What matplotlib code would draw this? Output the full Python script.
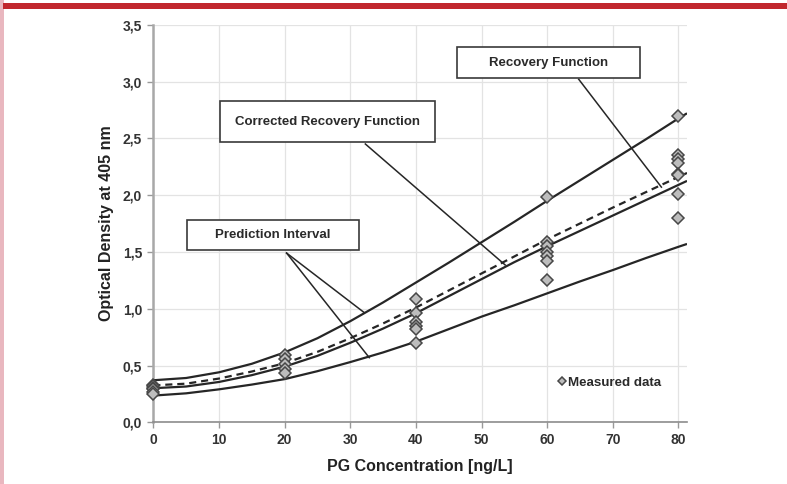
import matplotlib
matplotlib.use("Agg")
import matplotlib.pyplot as plt
from matplotlib.patches import Rectangle
from matplotlib.ticker import FuncFormatter

plt.rcParams['font.family'] = ['Liberation Sans', 'DejaVu Sans']

# ---- data ----
curve_x = [0, 5, 10, 15, 20, 25, 30, 35, 40, 45, 50, 55, 60, 65, 70, 75, 80, 81.3]
upper_pi = [0.37, 0.39, 0.44, 0.515, 0.615, 0.74, 0.89, 1.055, 1.23, 1.405, 1.585,
            1.765, 1.95, 2.13, 2.31, 2.49, 2.675, 2.72]
corrected_recovery = [0.325, 0.34, 0.385, 0.447, 0.52, 0.62, 0.74, 0.87, 1.01, 1.16, 1.31,
                      1.46, 1.61, 1.75, 1.89, 2.025, 2.16, 2.195]
recovery = [0.30, 0.315, 0.355, 0.415, 0.49, 0.585, 0.70, 0.825, 0.96, 1.11, 1.26,
            1.41, 1.55, 1.685, 1.82, 1.955, 2.09, 2.125]
lower_pi = [0.235, 0.255, 0.29, 0.332, 0.38, 0.45, 0.53, 0.615, 0.71, 0.82, 0.93,
            1.03, 1.135, 1.24, 1.34, 1.445, 1.545, 1.57]

meas_x = [0, 0, 0, 0, 0, 0,
          20, 20, 20, 20, 20,
          40, 40, 40, 40, 40, 40,
          60, 60, 60, 60, 60, 60, 60,
          80, 80, 80, 80, 80, 80, 80, 80]
meas_y = [0.33, 0.32, 0.30, 0.29, 0.27, 0.25,
          0.59, 0.56, 0.515, 0.47, 0.43,
          1.085, 0.965, 0.88, 0.85, 0.82, 0.695,
          1.98, 1.59, 1.55, 1.50, 1.46, 1.42, 1.25,
          2.70, 2.35, 2.32, 2.28, 2.19, 2.18, 2.01, 1.80]

x_ticks = [0, 10, 20, 30, 40, 50, 60, 70, 80]
y_ticks = [0.0, 0.5, 1.0, 1.5, 2.0, 2.5, 3.0, 3.5]

# annotation boxes: (label, x0, x1, y0, y1) in data units, connectors
boxes = [
    ("Recovery Function", 46.3, 74.2, 3.03, 3.30),
    ("Corrected Recovery Function", 10.2, 42.9, 2.465, 2.83),
    ("Prediction Interval", 5.1, 31.4, 1.518, 1.78),
]
connectors = [
    ((64.8, 3.02), (77.4, 2.07)),
    ((32.3, 2.45), (53.6, 1.385)),
    ((20.3, 1.49), (32.15, 0.965)),
    ((20.3, 1.49), (32.9, 0.569)),
]

# ---- figure ----
W, H = 787, 484
fig = plt.figure(figsize=(W / 100, H / 100), dpi=100)
fig.patch.set_facecolor('white')

# decorative frame strips
fig.patches.append(Rectangle((0, 0), 3.5 / W, 1, transform=fig.transFigure,
                             facecolor='#e9b7bf', edgecolor='none', zorder=0))
fig.patches.append(Rectangle((2.5 / W, 1 - 8.5 / H), 1, 5.0 / H, transform=fig.transFigure,
                             facecolor='#c1272d', edgecolor='none', zorder=0))

ax = fig.add_axes([153.3 / W, 1 - 422.3 / H, (687 - 153.3) / W, (422.3 - 24.7) / H])
ax.set_xlim(0, 81.3)
ax.set_ylim(0, 3.5)

ax.set_xticks(x_ticks)
ax.set_yticks(y_ticks)
ax.yaxis.set_major_formatter(FuncFormatter(lambda v, p: f"{v:.1f}".replace('.', ',')))
ax.xaxis.set_major_formatter(FuncFormatter(lambda v, p: f"{int(round(v))}"))
ax.grid(True, color='#e3e3e3', linewidth=0.9, zorder=0)
ax.set_axisbelow(True)

for s in ['top', 'right']:
    ax.spines[s].set_visible(False)
ax.spines['left'].set_color('#a8a8a8')
ax.spines['left'].set_linewidth(1.8)
ax.spines['bottom'].set_color('#8c8c8c')
ax.spines['bottom'].set_linewidth(1.2)
ax.tick_params(axis='both', length=4, width=1, color='#999999', labelcolor='#333333',
               labelsize=10, pad=4)
for lab in ax.get_xticklabels() + ax.get_yticklabels():
    lab.set_fontweight('bold')

ax.set_xlabel("PG Concentration [ng/L]", fontsize=11.5, fontweight='bold', color='#222222',
              labelpad=8)
ax.set_ylabel("Optical Density at 405 nm", fontsize=11.5, fontweight='bold', color='#222222',
              labelpad=6)

line_col = '#262626'
ax.plot(curve_x, upper_pi, color=line_col, lw=1.6, zorder=3, solid_capstyle='butt')
ax.plot(curve_x, lower_pi, color=line_col, lw=1.6, zorder=3, solid_capstyle='butt')
ax.plot(curve_x, recovery, color=line_col, lw=1.6, zorder=3, solid_capstyle='butt')
ax.plot(curve_x, corrected_recovery, color=line_col, lw=1.6, ls=(0, (3.2, 2.2)), zorder=3)

ax.plot(meas_x, meas_y, ls='none', marker='D', ms=6.2, mfc='#bdbdbd', mec='#474747', mew=1.1,
        zorder=4, clip_on=False, label='Measured data')

for (p0, p1) in connectors:
    ax.plot([p0[0], p1[0]], [p0[1], p1[1]], color=line_col, lw=1.1, zorder=5)

for (label, x0, x1, y0, y1) in boxes:
    ax.add_patch(Rectangle((x0, y0), x1 - x0, y1 - y0, facecolor='white', edgecolor='#3a3a3a',
                           lw=1.2, zorder=6))
    ax.text((x0 + x1) / 2, (y0 + y1) / 2, label, ha='center', va='center', fontsize=9.5,
            fontweight='bold', color='#2a2a2a', zorder=7)

leg = ax.legend(loc='center left', bbox_to_anchor=(0.748, 0.099), frameon=False,
                markerscale=0.6, handlelength=0.6, handletextpad=0.15, borderaxespad=0,
                prop={'weight': 'bold', 'size': 9.6})
for t in leg.get_texts():
    t.set_color('#2a2a2a')

fig.savefig("out.png", dpi=100, facecolor='white')
